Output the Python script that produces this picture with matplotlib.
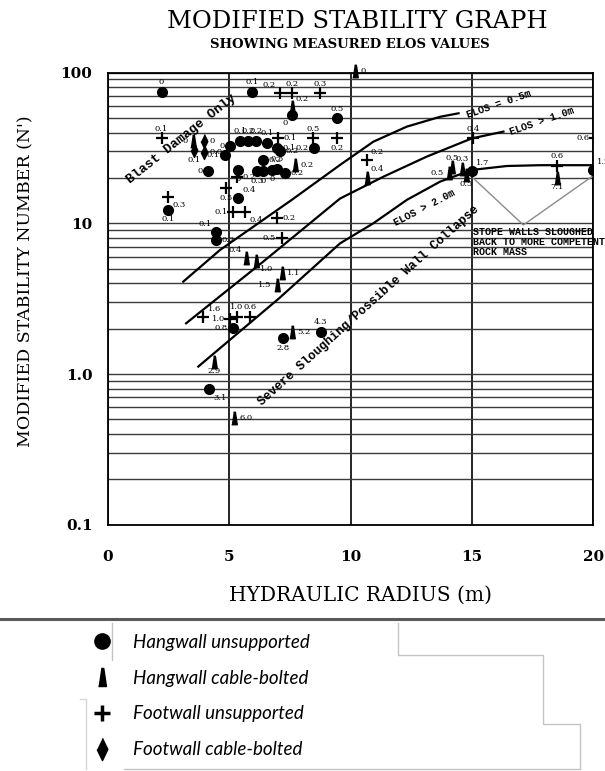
import matplotlib
matplotlib.use("Agg")
import matplotlib.pyplot as plt
from matplotlib.lines import Line2D
from matplotlib.ticker import LogLocator, NullFormatter
import numpy as np

# ---- values ----
# hangwall unsupported (filled circles)
hw_unsup_x = [2.22, 5.96, 7.58, 9.44, 8.51, 5.04, 4.83, 5.45, 5.78, 6.11, 6.55, 6.96, 7.10, 6.41,
              4.15, 5.38, 6.14, 6.41, 6.76, 6.96, 7.31, 5.38, 2.50, 4.46, 4.46, 5.18, 7.21, 8.78,
              4.19, 15.0, 20.0]
hw_unsup_n = [74.7, 74.7, 52.3, 49.8, 31.5, 32.4, 28.5, 35.2, 35.2, 35.2, 34.1, 31.6, 30.1, 26.4,
              22.1, 22.7, 22.1, 22.1, 22.7, 23.1, 21.6, 14.7, 12.3, 8.7, 7.7, 2.03, 1.73, 1.91,
              0.79, 22.3, 22.6]
hw_unsup_elos = ['0', '0.1', '0', '0.5', '0.2', '0', '0.1', '0.1', '0.2', '0.2', '0.1', '0.1', '0.2', '0.2',
                 '0', '0', '0.3', '0', '0', '0.3', '0.2', '0.4', '0.1', '0.1', '0.2', '0.8', '2.8', '4.3',
                 '3.1', '1.7', '1.2']

# hangwall cable-bolted (narrow triangles)
hw_cable_x = [10.19, 7.58, 3.53, 7.72, 5.69, 6.10, 7.17, 6.96, 7.58, 4.39, 5.20, 10.67, 14.05, 14.2,
              14.6, 14.75, 18.5]
hw_cable_n = [102, 59.4, 35.0, 24.4, 5.86, 5.65, 4.66, 3.90, 1.91, 1.21, 0.508, 20.1, 21.5, 23.5,
              23.0, 21.0, 20.1]
hw_cable_elos = ['0', '0.2', '0', '0.2', '0.4', '1.0', '1.1', '1.5', '5.2', '2.9', '6.0', '0.4', '0.5', '0.5',
                 '0.3', '0.5', '7.1']

# footwall unsupported (plus)
fw_unsup_x = [7.10, 7.58, 8.75, 2.22, 8.47, 9.46, 4.87, 2.50, 5.18, 5.66, 6.96, 7.17, 3.94, 5.05,
              5.32, 5.86, 10.67, 15.06, 20.08, 18.5, 5.32, 7.0]
fw_unsup_n = [73.0, 73.0, 73.0, 36.6, 36.6, 36.6, 17.1, 15.0, 11.9, 11.9, 10.8, 7.94, 2.40, 2.30,
              2.40, 2.40, 26.3, 36.6, 36.6, 24.0, 20.4, 36.6]
fw_unsup_elos = ['0.2', '0.2', '0.3', '0.1', '0.5', '0.2', '0.5', '0.3', '0.1', '0.4', '0.2', '0.5', '1.6', '1.0',
                 '1.0', '0.6', '0.2', '0.4', '0.6', '0.6', '0.2', '0.1']

# footwall cable-bolted (diamonds)
fw_cable_x = [3.97, 3.97, 3.55]
fw_cable_n = [35.1, 29.7, 30.5]
fw_cable_elos = ['0', '0.0', '0.1']

# design curves
elos05_x = [3.11, 4.63, 7.58, 9.57, 10.94, 12.32, 13.69, 14.45]
elos05_n = [4.10, 6.66, 14.3, 24.4, 34.8, 43.8, 50.9, 53.7]
elos10_x = [3.23, 6.40, 9.57, 11.36, 13.14, 15.0, 16.3]
elos10_n = [2.17, 5.56, 14.6, 20.4, 27.7, 36.6, 40.6]
elos20_x = [3.73, 7.06, 9.57, 10.94, 12.32, 13.69, 15.0, 16.44, 17.82, 20.0]
elos20_n = [1.12, 3.18, 7.36, 10.0, 14.3, 18.9, 22.6, 24.0, 24.3, 24.3]
vnote_x = [15.06, 17.12, 19.94]
vnote_n = [19.9, 9.75, 20.4]

# where each ELOS label sits next to its marker
hw_unsup_pos = ['a', 'a', 'bl', 'a', 'l', 'l', 'l', 'a', 'a', 'a', 'a', 'r', 'r', 'r',
                'l', 'b', 'b', 'b', 'b', 'a', 'r', 'ar', 'b', 'al', 'r', 'l', 'b', 'a',
                'br', 'ar', 'ar']
hw_cable_pos = ['r', 'ar', 'l', 'r', 'al', 'br', 'r', 'l', 'r', 'b', 'r', 'ar', 'l', 'a',
                'a', 'b', 'b']
fw_unsup_pos = ['al', 'a', 'a', 'a', 'a', 'b', 'b', 'br', 'l', 'br', 'r', 'l', 'ar', 'l',
                'a', 'a', 'ar', 'a', 'l', 'a', 'r', 'r']
fw_cable_pos = ['r', 'r', 'b']
OFFS = {'a': (0, 4, 'center', 'bottom'), 'b': (0, -4, 'center', 'top'),
        'l': (-4, 0, 'right', 'center'), 'r': (4, 0, 'left', 'center'),
        'ar': (3, 3, 'left', 'bottom'), 'al': (-3, 3, 'right', 'bottom'),
        'br': (3, -3, 'left', 'top'), 'bl': (-3, -3, 'right', 'top')}

TRI = [(-0.22, -0.5), (0.22, -0.5), (0.07, 0.5), (-0.07, 0.5)]
DIA = [(0, 0.5), (0.24, 0), (0, -0.5), (-0.24, 0)]

W, H = 605, 771
fig = plt.figure(figsize=(W / 100, H / 100), dpi=100)
ax = fig.add_axes([107.7 / W, 1 - 524.7 / H, 485.6 / W, 452.1 / H])

ax.set_yscale('log')
ax.set_xlim(0, 20)
ax.set_ylim(0.1, 100)
ax.set_xticks([0, 5, 10, 15, 20])
ax.set_yticks([0.1, 1, 10, 100])
ax.set_yticklabels(['0.1', '1.0', '10', '100'])
ax.yaxis.set_minor_locator(LogLocator(base=10, subs=np.arange(2, 10)))
ax.yaxis.set_minor_formatter(NullFormatter())
ax.tick_params(which='both', length=0)
ax.tick_params(axis='x', pad=18)
ax.tick_params(axis='y', pad=11)
for lab in ax.get_xticklabels() + ax.get_yticklabels():
    lab.set_family('DejaVu Serif')
    lab.set_fontweight('bold')
    lab.set_fontsize(11)
ax.yaxis.grid(True, which='both', color='#3a3a3a', lw=1.0)
ax.xaxis.grid(True, which='major', color='black', lw=1.2)
for sp in ax.spines.values():
    sp.set_linewidth(1.3)

# design lines
for cx, cn in [(elos05_x, elos05_n), (elos10_x, elos10_n), (elos20_x, elos20_n)]:
    ax.plot(cx, cn, color='black', lw=1.6, zorder=3)
ax.plot(vnote_x, vnote_n, color='#8a8a8a', lw=1.0, zorder=3)

# case histories
ax.plot(hw_unsup_x, hw_unsup_n, ls='none', marker='o', ms=7, color='black', zorder=4)
ax.plot(hw_cable_x, hw_cable_n, ls='none', marker=TRI, ms=9, color='black', zorder=4,
        clip_on=False)
ax.plot(fw_unsup_x, fw_unsup_n, ls='none', marker='+', ms=8, mew=1.6, color='black', zorder=4)
ax.plot(fw_cable_x, fw_cable_n, ls='none', marker=DIA, ms=10, color='black', zorder=4)

for xs, ns, labs, pos in [(hw_unsup_x, hw_unsup_n, hw_unsup_elos, hw_unsup_pos),
                          (hw_cable_x, hw_cable_n, hw_cable_elos, hw_cable_pos),
                          (fw_unsup_x, fw_unsup_n, fw_unsup_elos, fw_unsup_pos),
                          (fw_cable_x, fw_cable_n, fw_cable_elos, fw_cable_pos)]:
    for x, n, t, p in zip(xs, ns, labs, pos):
        dx, dy, ha, va = OFFS[p]
        ax.annotate(t, (x, n), xytext=(dx, dy), textcoords='offset points', ha=ha, va=va,
                    fontsize=6, family='DejaVu Serif', zorder=5, annotation_clip=False)

# zone notes
note = dict(family='Liberation Mono', fontweight='bold', ha='center', va='center',
            rotation_mode='anchor', zorder=5)
ax.text(3.05, 36.1, 'Blast Damage Only', fontsize=9.5, rotation=38.5, **note)
ax.text(10.75, 2.85, 'Severe Sloughing/Possible Wall Collapse', fontsize=9, rotation=42, **note)
ax.text(16.1, 61.9, 'ELOS = 0.5m', fontsize=7.3, rotation=19, **note)
ax.text(17.87, 47.8, 'ELOS > 1.0m', fontsize=7.3, rotation=19, **note)
ax.text(13.05, 12.6, 'ELOS > 2.0m', fontsize=7.3, rotation=27.5, **note)
ax.text(15.03, 9.4, 'STOPE WALLS SLOUGHED\nBACK TO MORE COMPETENT\nROCK MASS',
        family='Liberation Mono', fontweight='bold', fontsize=7.2, ha='left', va='top',
        linespacing=0.95, zorder=5, clip_on=False)

ax.set_xlabel('HYDRAULIC RADIUS (m)', family='DejaVu Serif', fontsize=14.5, va='center')
ax.xaxis.set_label_coords(0.52, -0.1555)
ax.set_ylabel("MODIFIED STABILITY NUMBER (N')", family='DejaVu Serif', fontsize=12.5, va='center')
ax.yaxis.set_label_coords(-0.168, 0.539)

fig.text(357 / W, 1 - 21 / H, 'MODIFIED STABILITY GRAPH', family='DejaVu Serif', fontsize=17.5,
         ha='center', va='center')
fig.text(350 / W, 1 - 45 / H, 'SHOWING MEASURED ELOS VALUES', family='DejaVu Serif',
         fontweight='bold', fontsize=9.5, ha='center', va='center')


# page furniture under the chart (pixel coords from the top-left)
def seg(pts, **kw):
    fig.add_artist(Line2D([p[0] / W for p in pts], [1 - p[1] / H for p in pts],
                          transform=fig.transFigure, **kw))


seg([(0, 619), (W, 619)], color='#5a5a5a', lw=2.2)
seg([(112, 623), (112, 660)], color='#c4c4c4', lw=1)
seg([(397.7, 623), (397.7, 655), (543, 655), (543, 723.7), (580, 723.7), (580, 769),
     (123.5, 769)], color='#c4c4c4', lw=1)
seg([(80, 699), (86, 699), (86, 769)], color='#d6d6d6', lw=1)

handles = [Line2D([], [], ls='none', marker='o', ms=11, color='black'),
           Line2D([], [], ls='none', marker=TRI, ms=13, color='black'),
           Line2D([], [], ls='none', marker='+', ms=11, mew=2.5, color='black'),
           Line2D([], [], ls='none', marker=DIA, ms=16, color='black')]
names = ['Hangwall unsupported', 'Hangwall cable-bolted', 'Footwall unsupported',
         'Footwall cable-bolted']
fig.legend(handles, names, loc='upper left', bbox_to_anchor=(87 / W, 1 - 634 / H),
           frameon=False, borderpad=0, borderaxespad=0, handlelength=1.6, handletextpad=0.85,
           labelspacing=1.0, prop=dict(family='Lato', style='italic', size=13.5))

fig.savefig('out.png', dpi=100)
